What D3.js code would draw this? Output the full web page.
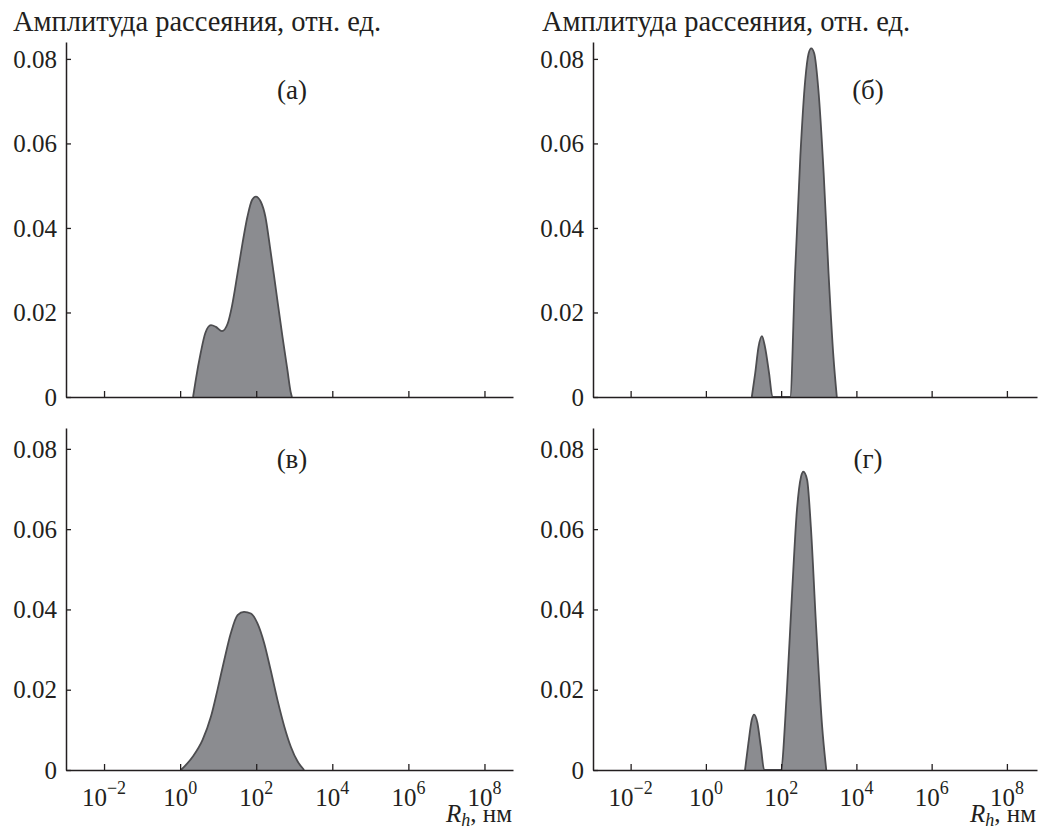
<!DOCTYPE html>
<html>
<head>
<meta charset="utf-8">
<script src="https://cdn.jsdelivr.net/npm/d3@7"></script>
<style>
  html, body { margin: 0; padding: 0; background: #fff; }
  svg text { font-family: "Liberation Serif", "Times New Roman", Tinos, serif !important; fill: #231f20; }
</style>
</head>
<body>
<svg id="chart" width="1041" height="829"></svg>
<script>
// Size distributions of scatterers: log10(Rh, nm) and scattering amplitude
const lgA  = [0.34, 0.41, 0.54, 0.66, 0.81, 0.94, 1.10, 1.25, 1.36, 1.51, 1.64, 1.77, 1.89, 1.99, 2.12, 2.24, 2.36, 2.52, 2.69, 2.82, 2.91, 2.94];
const ampA = [0, 0.004, 0.0104, 0.0151, 0.017, 0.0166, 0.0156, 0.0174, 0.0214, 0.0293, 0.0364, 0.0427, 0.0466, 0.0474, 0.0462, 0.0427, 0.0356, 0.0253, 0.0143, 0.0064, 0.001, 0];

const lgB  = [1.22, 1.31, 1.40, 1.49, 1.57, 1.68, 1.77, 2.24, 2.37, 2.51, 2.64, 2.73, 2.80, 2.88, 2.99, 3.13, 3.26, 3.39, 3.48];
const ampB = [0, 0.0056, 0.0119, 0.0144, 0.0119, 0.0056, 0, 0, 0.0293, 0.0569, 0.075, 0.0813, 0.0825, 0.0813, 0.0727, 0.053, 0.0293, 0.0095, 0];

const lgV  = [0.02, 0.33, 0.59, 0.81, 0.98, 1.16, 1.33, 1.51, 1.68, 1.86, 2.03, 2.21, 2.38, 2.56, 2.74, 2.91, 3.09, 3.26];
const ampV = [0, 0.0033, 0.0075, 0.0133, 0.0199, 0.0274, 0.034, 0.0386, 0.0394, 0.039, 0.0366, 0.0316, 0.0249, 0.0174, 0.0108, 0.0058, 0.0021, 0];

const lgG  = [1.04, 1.13, 1.22, 1.28, 1.37, 1.46, 1.55, 1.99, 2.15, 2.29, 2.42, 2.53, 2.59, 2.69, 2.79, 2.93, 3.09, 3.20];
const ampG = [0, 0.0067, 0.0125, 0.0138, 0.0117, 0.0058, 0, 0, 0.0192, 0.044, 0.0648, 0.0731, 0.0743, 0.0723, 0.0606, 0.0357, 0.0108, 0];

const panelLabels = ["(а)", "(б)", "(в)", "(г)"];
const xTickExps = [-2, 0, 2, 4, 6, 8];
const yTicks = [0, 0.02, 0.04, 0.06, 0.08];
const yTitle = "Амплитуда рассеяния, отн. ед.";

const svg = d3.select("#chart");

const cols = [
  { x0: 66,  x1: 513,  lgMax: 8.75, titleX: 13,  labelX: 292 },
  { x0: 593, x1: 1037, lgMax: 8.8,  titleX: 542, labelX: 868 }
];
const rows = [
  { y0: 397, y1: 42,  yMax: 0.084,  labelY: 99,  showX: false },
  { y0: 770, y1: 428, yMax: 0.0852, labelY: 468, showX: true }
];

const panels = [
  { col: 0, row: 0, lg: lgA, amp: ampA, label: panelLabels[0] },
  { col: 1, row: 0, lg: lgB, amp: ampB, label: panelLabels[1] },
  { col: 0, row: 1, lg: lgV, amp: ampV, label: panelLabels[2] },
  { col: 1, row: 1, lg: lgG, amp: ampG, label: panelLabels[3] }
];

panels.forEach(p => {
  const c = cols[p.col], r = rows[p.row];
  const x = d3.scaleLog().domain([1e-3, Math.pow(10, c.lgMax)]).range([c.x0, c.x1]);
  const y = d3.scaleLinear().domain([0, r.yMax]).range([r.y0, r.y1]);
  const g = svg.append("g");

  const pts = p.lg.map((v, i) => ({ rh: Math.pow(10, v), a: p.amp[i] }));

  const area = d3.area()
    .x(d => x(d.rh))
    .y0(y(0))
    .y1(d => y(d.a))
    .curve(d3.curveMonotoneX);
  const line = d3.line()
    .x(d => x(d.rh))
    .y(d => y(d.a))
    .curve(d3.curveMonotoneX);

  g.append("path").datum(pts).attr("d", area).attr("fill", "#8b8c90");
  g.append("path").datum(pts).attr("d", line)
    .attr("fill", "none").attr("stroke", "#4d4d50").attr("stroke-width", 1.8)
    .attr("stroke-linejoin", "round");

  // y axis with inward ticks
  const ya = g.append("g").attr("transform", `translate(${c.x0},0)`)
    .call(d3.axisLeft(y).tickValues(yTicks).tickSizeInner(-5).tickSizeOuter(0).tickPadding(9)
      .tickFormat(d => d === 0 ? "0" : d.toFixed(2)));
  ya.selectAll("text").attr("font-size", 25).attr("dy", "0.33em");

  // x axis (log scale), inward ticks
  const xa = g.append("g").attr("transform", `translate(0,${r.y0})`)
    .call(d3.axisBottom(x).tickValues(xTickExps.map(e => Math.pow(10, e)))
      .tickSizeInner(-6).tickSizeOuter(0).tickFormat(() => ""));
  [ya, xa].forEach(a => {
    a.select(".domain").attr("stroke", "#231f20").attr("stroke-width", 1.5);
    a.selectAll(".tick line").attr("stroke", "#231f20").attr("stroke-width", 1.3);
  });

  if (r.showX) {
    const lbl = g.append("g");
    xTickExps.forEach(e => {
      const t = lbl.append("text")
        .attr("x", x(Math.pow(10, e)))
        .attr("y", r.y0 + 36)
        .attr("text-anchor", "middle")
        .attr("font-size", 25);
      t.append("tspan").text("10");
      t.append("tspan").attr("font-size", 18).attr("dy", -12)
        .text(String(e).replace("-", "−"));
    });
    const xt = g.append("text")
      .attr("x", c.x1 - 1).attr("y", r.y0 + 52)
      .attr("text-anchor", "end").attr("font-size", 25);
    xt.append("tspan").attr("font-style", "italic").text("R");
    xt.append("tspan").attr("font-style", "italic").attr("font-size", 18).attr("dy", 4).text("h");
    xt.append("tspan").attr("dy", -4).text(", нм");
  }

  g.append("text")
    .attr("x", c.labelX).attr("y", r.labelY)
    .attr("text-anchor", "middle").attr("font-size", 27)
    .text(p.label);

  if (p.row === 0) {
    svg.append("text").attr("x", c.titleX).attr("y", 31)
      .attr("font-size", 28.5).text(yTitle);
  }
});
</script>
</body>
</html>
